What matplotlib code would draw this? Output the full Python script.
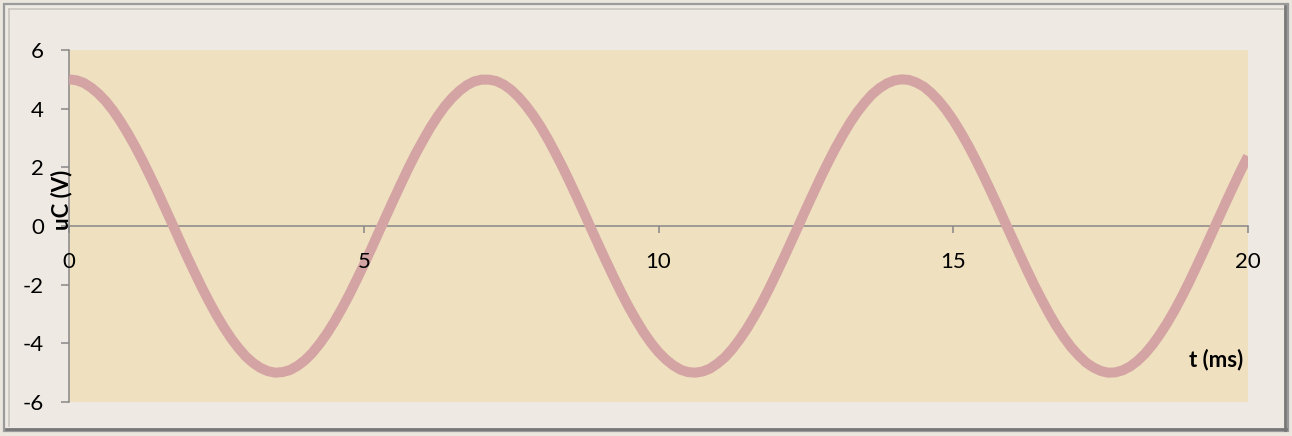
import matplotlib
matplotlib.use("Agg")
import matplotlib.pyplot as plt
from matplotlib.lines import Line2D
from matplotlib.patches import Rectangle

# time in ms, voltage across capacitor in V
t_ms = [
    0.000, 0.125, 0.250, 0.375, 0.500, 0.625, 0.750, 0.875,
    1.000, 1.125, 1.250, 1.375, 1.500, 1.625, 1.750, 1.875,
    2.000, 2.125, 2.250, 2.375, 2.500, 2.625, 2.750, 2.875,
    3.000, 3.125, 3.250, 3.375, 3.500, 3.625, 3.750, 3.875,
    4.000, 4.125, 4.250, 4.375, 4.500, 4.625, 4.750, 4.875,
    5.000, 5.125, 5.250, 5.375, 5.500, 5.625, 5.750, 5.875,
    6.000, 6.125, 6.250, 6.375, 6.500, 6.625, 6.750, 6.875,
    7.000, 7.125, 7.250, 7.375, 7.500, 7.625, 7.750, 7.875,
    8.000, 8.125, 8.250, 8.375, 8.500, 8.625, 8.750, 8.875,
    9.000, 9.125, 9.250, 9.375, 9.500, 9.625, 9.750, 9.875,
    10.000, 10.125, 10.250, 10.375, 10.500, 10.625, 10.750, 10.875,
    11.000, 11.125, 11.250, 11.375, 11.500, 11.625, 11.750, 11.875,
    12.000, 12.125, 12.250, 12.375, 12.500, 12.625, 12.750, 12.875,
    13.000, 13.125, 13.250, 13.375, 13.500, 13.625, 13.750, 13.875,
    14.000, 14.125, 14.250, 14.375, 14.500, 14.625, 14.750, 14.875,
    15.000, 15.125, 15.250, 15.375, 15.500, 15.625, 15.750, 15.875,
    16.000, 16.125, 16.250, 16.375, 16.500, 16.625, 16.750, 16.875,
    17.000, 17.125, 17.250, 17.375, 17.500, 17.625, 17.750, 17.875,
    18.000, 18.125, 18.250, 18.375, 18.500, 18.625, 18.750, 18.875,
    19.000, 19.125, 19.250, 19.375, 19.500, 19.625, 19.750, 19.875,
    20.000,
]
uc_volts = [
    5.00, 4.97, 4.88, 4.72, 4.51, 4.25, 3.93, 3.56,
    3.15, 2.70, 2.22, 1.71, 1.18, 0.63, 0.08, -0.48,
    -1.03, -1.56, -2.08, -2.57, -3.03, -3.45, -3.83, -4.16,
    -4.45, -4.67, -4.84, -4.95, -5.00, -4.98, -4.91, -4.77,
    -4.58, -4.33, -4.02, -3.67, -3.27, -2.83, -2.36, -1.85,
    -1.33, -0.79, -0.23, 0.32, 0.87, 1.41, 1.94, 2.44,
    2.90, 3.34, 3.73, 4.08, 4.37, 4.61, 4.80, 4.93,
    4.99, 4.99, 4.94, 4.82, 4.64, 4.40, 4.11, 3.77,
    3.39, 2.96, 2.49, 2.00, 1.48, 0.94, 0.39, -0.17,
    -0.72, -1.26, -1.79, -2.30, -2.78, -3.22, -3.63, -3.99,
    -4.30, -4.55, -4.75, -4.90, -4.98, -5.00, -4.96, -4.86,
    -4.69, -4.48, -4.20, -3.87, -3.50, -3.08, -2.63, -2.14,
    -1.62, -1.09, -0.54, 0.01, 0.57, 1.11, 1.65, 2.16,
    2.65, 3.10, 3.52, 3.89, 4.21, 4.49, 4.70, 4.86,
    4.96, 5.00, 4.98, 4.89, 4.75, 4.54, 4.28, 3.97,
    3.61, 3.20, 2.76, 2.28, 1.77, 1.24, 0.70, 0.14,
    -0.41, -0.96, -1.50, -2.02, -2.51, -2.98, -3.41, -3.79,
    -4.13, -4.41, -4.65, -4.82, -4.94, -5.00, -4.99, -4.92,
    -4.79, -4.60, -4.36, -4.06, -3.71, -3.32, -2.89, -2.42,
    -1.92, -1.39, -0.85, -0.30, 0.26, 0.81, 1.35, 1.88,
    2.38,
]
x_ticks = [0, 5, 10, 15, 20]
y_ticks = [-6, -4, -2, 0, 2, 4, 6]

W, H = 1292, 436
plt.rcParams["font.family"] = ["Lato", "DejaVu Sans"]

fig = plt.figure(figsize=(W / 100, H / 100), dpi=100)
fig.patch.set_facecolor("#ebe7df")


def px(x, y):
    # pixel coords (from top-left) -> figure fraction
    return x / W, 1 - y / H


# frame with a bevel look
x0, y0 = px(4, 431)
x1, y1 = px(1288, 4)
fig.patches.append(Rectangle((x0, y0), x1 - x0, y1 - y0, transform=fig.transFigure,
                             facecolor="#eeeae3", edgecolor="#9b9b9b", lw=1.6, zorder=-2))
for (xa, ya, xb, yb, c, w) in [
    (9, 9, 1283, 9, "#c9c6c0", 1.2),
    (9, 9, 9, 426, "#c9c6c0", 1.2),
    (1285, 6, 1285, 430, "#777777", 2.0),
    (6, 429, 1286, 429, "#777777", 2.0),
]:
    pa = px(xa, ya)
    pb = px(xb, yb)
    fig.add_artist(Line2D([pa[0], pb[0]], [pa[1], pb[1]], transform=fig.transFigure,
                          color=c, lw=w, zorder=-1))

left, right, top, bottom = 69, 1248, 50, 402
ax = fig.add_axes([left / W, 1 - bottom / H, (right - left) / W, (bottom - top) / H])
ax.set_zorder(2)
ax.set_facecolor("#efe0bf")

ax.plot(t_ms, uc_volts, color="#d4a4a4", lw=7.2, solid_joinstyle="round",
        solid_capstyle="butt", zorder=3)

ax.set_xlim(0, 20)
ax.set_ylim(-6, 6)
ax.set_xticks(x_ticks)
ax.set_xticklabels([])
ax.set_yticks(y_ticks)
ax.set_yticklabels([str(v) for v in y_ticks])

for s in ["top", "right"]:
    ax.spines[s].set_visible(False)
ax.spines["bottom"].set_position(("data", 0))
ax.spines["bottom"].set_color("#878787")
ax.spines["left"].set_color("#878787")
ax.spines["bottom"].set_linewidth(1.1)
ax.spines["left"].set_linewidth(1.1)

ax.tick_params(axis="x", direction="out", length=5, width=1.1, color="#878787")
ax.tick_params(axis="y", direction="out", length=6, width=1.1, color="#878787",
               pad=12, labelsize=16, labelcolor="black")

# x tick labels sit below the zero line, drawn over the curve
for xt in x_ticks:
    ax.text(xt, -1.23, str(xt), ha="center", va="center", fontsize=16,
            color="black", zorder=5)

ax.text((62 - left) / (right - left), (bottom - 200) / (bottom - top), "uC (V)",
        transform=ax.transAxes, rotation=90, ha="center", va="center",
        fontsize=16, fontweight="bold", zorder=5)
ax.text((1243 - left) / (right - left), (bottom - 360) / (bottom - top), "t (ms)",
        transform=ax.transAxes, ha="right", va="center",
        fontsize=16, fontweight="bold", zorder=5)

fig.savefig("out.png", dpi=100, facecolor=fig.get_facecolor())
